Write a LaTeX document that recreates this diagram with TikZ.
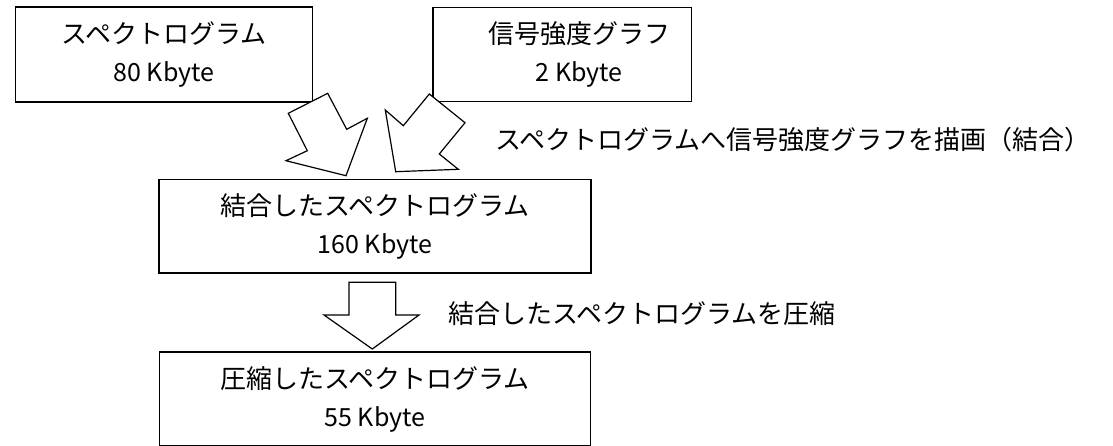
\documentclass[tikz,border=0pt]{standalone}
\usepackage{fontspec}
\setmainfont{Noto Sans CJK JP}
\begin{document}
\begin{tikzpicture}[x=1pt,y=-1pt,
  box/.style={draw, line width=1.5pt, align=center, inner sep=0pt, fill=white,
    font=\fontsize{26}{38}\selectfont},
  blockarrow/.style={draw, fill=white, line width=1.2pt, line join=miter},
  lbl/.style={anchor=west, inner sep=0pt, font=\fontsize{26}{30}\selectfont}]
\useasboundingbox (0,0) rectangle (1113,445);
\newcommand{\lat}[1]{{\fontsize{25}{38}\selectfont #1}}
% boxes
\node[box, minimum width=296.6pt, minimum height=95pt] (spec) at (164,54.5)
  {スペクトログラム\\\lat{80 Kbyte}};
\node[box, minimum width=258.7pt, minimum height=94pt] (sig) at (562.3,54.7)
  {\hspace*{34pt}信号強度グラフ\\\hspace*{34pt}\lat{2 Kbyte}};
\node[box, minimum width=432pt, minimum height=93.7pt] (comb) at (375,226.2)
  {結合したスペクトログラム\\\lat{160 Kbyte}};
\node[box, minimum width=431.4pt, minimum height=94pt] (comp) at (375,399)
  {圧縮したスペクトログラム\\\lat{55 Kbyte}};
% block arrows
\draw[blockarrow] (288.3,113.3) -- (327.7,93.3) -- (346.7,129.3) -- (367.3,118.3)
  -- (346,175.7) -- (286,160.7) -- (307.3,150.7) -- cycle;
\draw[blockarrow] (429.3,94) -- (465,122.7) -- (439.3,154) -- (458.3,169.3)
  -- (395.7,171.7) -- (385.3,110) -- (403.3,125.7) -- cycle;
\draw[blockarrow] (349,282.3) -- (395.7,282.3) -- (395.7,315) -- (419,315)
  -- (372.3,349) -- (324,315) -- (349,315) -- cycle;
% labels
\node[lbl] (l1) at (495,140) {スペクトログラムへ信号強度グラフを描画（結合）};
\node[lbl] (l2) at (448,314) {結合したスペクトログラムを圧縮};
\end{tikzpicture}
\end{document}
